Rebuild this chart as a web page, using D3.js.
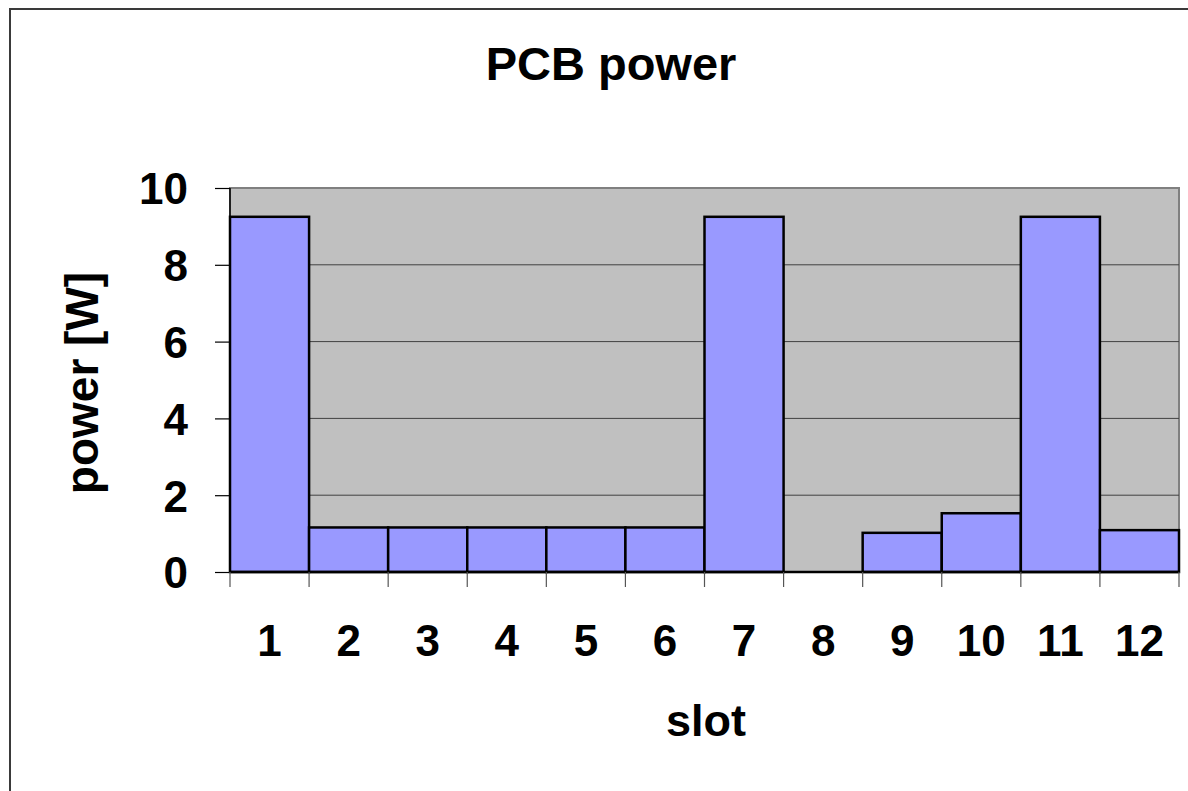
<!DOCTYPE html>
<html><head><meta charset="utf-8">
<script src="https://cdn.jsdelivr.net/npm/d3@7"></script>
<style>html,body{margin:0;padding:0;background:#fff;}svg{display:block;}</style>
</head><body>
<script>
const slots = ["1","2","3","4","5","6","7","8","9","10","11","12"];
const power = [9.25, 1.16, 1.16, 1.16, 1.16, 1.16, 9.25, 0, 1.02, 1.53, 9.25, 1.09];
const yTicks = [0, 2, 4, 6, 8, 10];
const title = "PCB power";
const xTitle = "slot";
const yTitle = "power [W]";

const W = 1188, H = 791;
const font = "'Liberation Sans', Arial, sans-serif";
const svg = d3.select("body").append("svg").attr("width", W).attr("height", H);

// outer chart border
svg.append("rect").attr("x", 10).attr("y", 9).attr("width", W + 20).attr("height", H + 20)
  .attr("fill", "#fff").attr("stroke", "#3a3a3a").attr("stroke-width", 2);

const L = 230, R = 1179, T = 188, B = 572;
const x = d3.scaleBand().domain(slots).range([L, R]).padding(0);
const y = d3.scaleLinear().domain([0, 10]).range([B, T]);

svg.append("rect").attr("x", L).attr("y", T).attr("width", R - L).attr("height", B - T)
  .attr("fill", "#c0c0c0").attr("stroke", "#808080").attr("stroke-width", 2);

// gridlines
svg.append("g").selectAll("line").data(yTicks.filter(d => d > 0 && d < 10)).join("line")
  .attr("x1", L).attr("x2", R).attr("y1", d => y(d)).attr("y2", d => y(d))
  .attr("stroke", "#404040").attr("stroke-width", 1);

// bars
svg.append("g").selectAll("rect").data(slots.map((s, i) => ({s, v: power[i]})).filter(d => d.v > 0)).join("rect")
  .attr("x", d => x(d.s)).attr("width", x.bandwidth())
  .attr("y", d => y(d.v)).attr("height", d => y(0) - y(d.v))
  .attr("fill", "#9999ff").attr("stroke", "#000").attr("stroke-width", 2.5);

// y axis
const yAxis = d3.axisLeft(y).tickValues(yTicks).tickSize(15).tickPadding(27).tickFormat(d3.format("d"));
const gy = svg.append("g").attr("transform", `translate(${L},0)`).call(yAxis);
gy.select(".domain").attr("stroke", "#000").attr("stroke-width", 1.5).attr("d", `M0,${T}V${B}`);
gy.selectAll(".tick line").attr("stroke", "#000").attr("stroke-width", 1.2);
gy.selectAll("text").attr("font-family", font).attr("font-weight", "bold").attr("font-size", 44).attr("fill", "#000").attr("dy", "0.36em");

// x axis baseline
svg.append("line").attr("x1", L).attr("x2", R).attr("y1", B).attr("y2", B).attr("stroke", "#000").attr("stroke-width", 2.5);

// x ticks at band boundaries
const bounds = slots.map(s => x(s)).concat([x(slots[slots.length - 1]) + x.bandwidth()]);
svg.append("g").selectAll("line").data(bounds).join("line")
  .attr("x1", d => d).attr("x2", d => d).attr("y1", B).attr("y2", B + 15)
  .attr("stroke", "#555").attr("stroke-width", 1.2);

svg.append("g").selectAll("text").data(slots).join("text")
  .attr("x", d => x(d) + x.bandwidth() / 2).attr("y", 656)
  .attr("text-anchor", "middle").attr("font-family", font).attr("font-weight", "bold").attr("font-size", 44)
  .text(d => d);

// titles
svg.append("text").attr("x", 611).attr("y", 80).attr("text-anchor", "middle")
  .attr("font-family", font).attr("font-weight", "bold").attr("font-size", 47).text(title);
svg.append("text").attr("x", 706).attr("y", 736).attr("text-anchor", "middle")
  .attr("font-family", font).attr("font-weight", "bold").attr("font-size", 45).text(xTitle);
svg.append("text").attr("transform", "translate(98,383) rotate(-90)").attr("text-anchor", "middle")
  .attr("font-family", font).attr("font-weight", "bold").attr("font-size", 46).text(yTitle);
</script>
</body></html>
